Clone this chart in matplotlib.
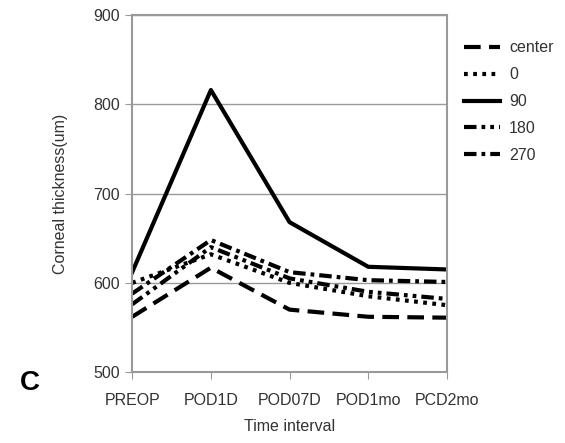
import matplotlib
matplotlib.use('Agg')
import matplotlib.pyplot as plt

plt.rcParams['font.family'] = ['Liberation Sans', 'DejaVu Sans']

intervals = ['PREOP', 'POD1D', 'POD07D', 'POD1mo', 'PCD2mo']
center = [562, 617, 570, 562, 561]
deg0 = [600, 632, 600, 585, 575]
deg90 = [612, 816, 668, 618, 615]
deg180 = [576, 640, 605, 590, 582]
deg270 = [588, 648, 612, 603, 601]

fig = plt.figure(figsize=(5.65, 4.43), dpi=100)
ax = fig.add_axes([0.234, 0.16, 0.557, 0.806])

x = range(len(intervals))
ax.plot(x, center, color='black', lw=3, dashes=(4, 2), label='center')
ax.plot(x, deg0, color='black', lw=3, dashes=(0.9, 1.3), label='0')
ax.plot(x, deg90, color='black', lw=3, label='90')
ax.plot(x, deg180, color='black', lw=3, dashes=(3, 1.2, 0.9, 1.2, 0.9, 1.2), label='180')
ax.plot(x, deg270, color='black', lw=3, dashes=(3, 1.2, 0.9, 1.2), label='270')

ax.set_xlim(0, 4)
ax.set_ylim(500, 900)
ax.set_yticks([500, 600, 700, 800, 900])
ax.set_xticks(list(x))
ax.set_xticklabels(intervals)
ax.grid(axis='y', color='#999999', lw=1)
ax.set_axisbelow(True)
for s in ax.spines.values():
    s.set_color('#999999')
    s.set_linewidth(1.5)
ax.tick_params(axis='both', colors='#999999', labelcolor='#333333', labelsize=11.5, length=5)
ax.tick_params(axis='x', pad=10)
ax.tick_params(axis='y', pad=4)

ax.set_xlabel('Time interval', fontsize=11.5, color='#333333', labelpad=8)
ax.set_ylabel('Corneal thickness(um)', fontsize=11.5, color='#333333', labelpad=18)

ax.legend(loc='upper left', bbox_to_anchor=(1.01, 0.97), frameon=False, fontsize=11.5,
          handlelength=2.2, handletextpad=0.6, labelspacing=0.75, labelcolor='#333333')

fig.text(0.035, 0.12, 'C', fontsize=20, fontweight='bold')

fig.savefig('out.png', dpi=100)
